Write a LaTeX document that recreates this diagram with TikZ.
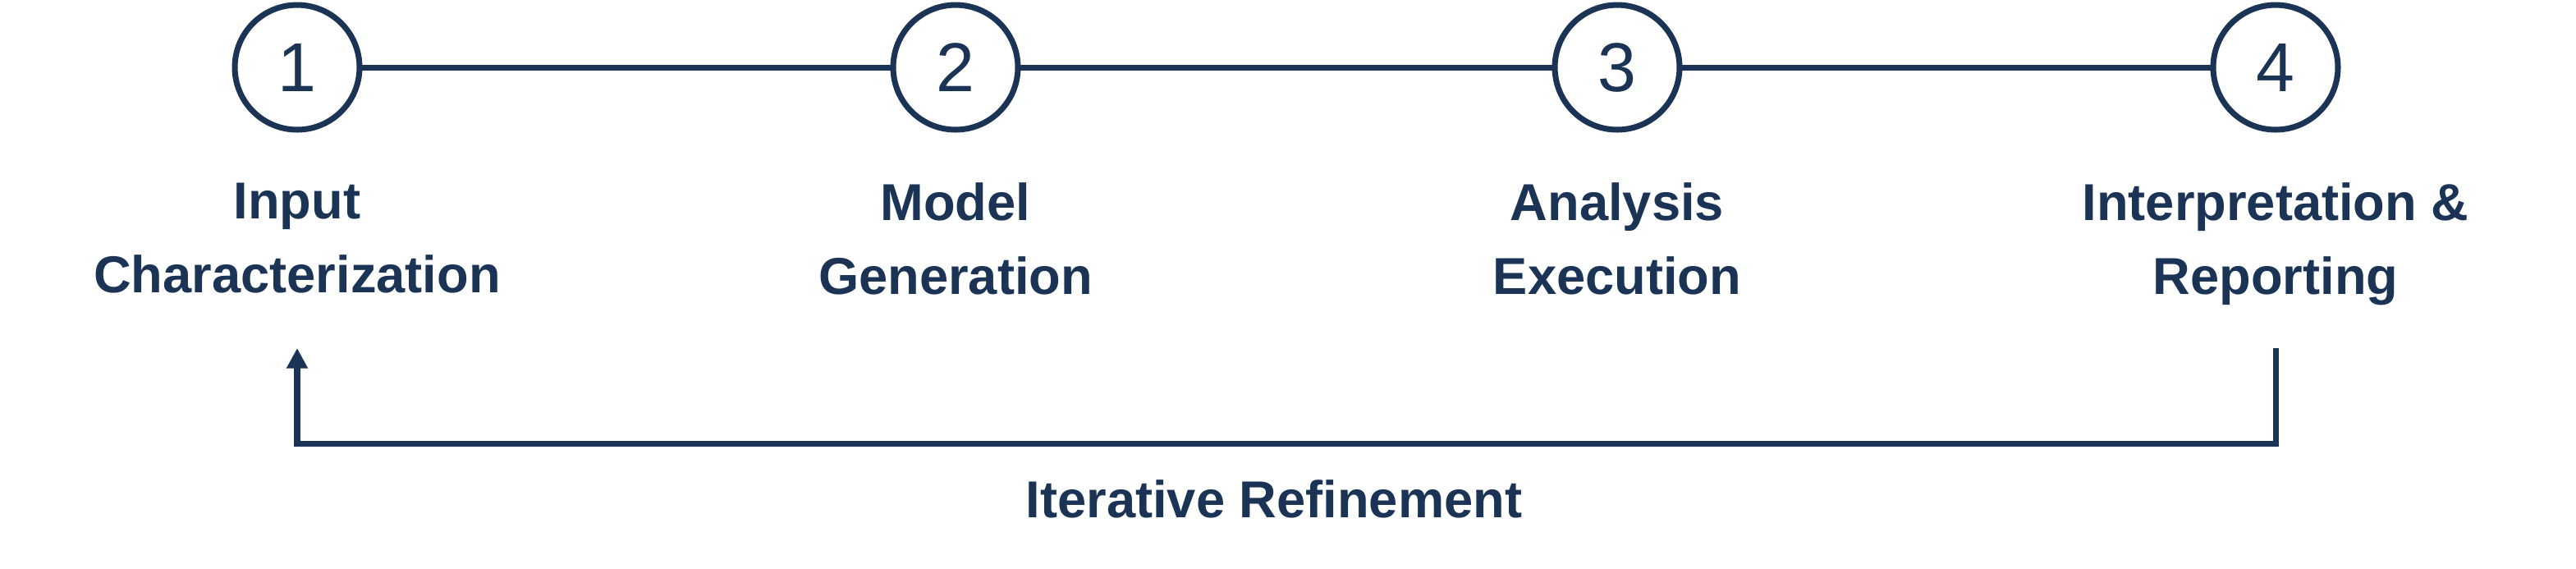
\documentclass[tikz,border=0pt]{standalone}
\usepackage{fontspec}
\setmainfont{Liberation Sans}
\usetikzlibrary{arrows.meta}
\definecolor{navyDark}{RGB}{27, 52, 86}

\begin{document}
\begin{tikzpicture}
    [
		x=0.02cm, y=-0.02cm,
		stage/.style={
			draw=navyDark, circle, line width=2pt, minimum size=1.52cm,
			inner sep=0pt, fill=white, text=navyDark, font=\fontsize{24}{24}\selectfont
		},
		caption/.style={
			align=center, anchor=north, inner sep=0pt, text=navyDark,
			font=\bfseries\fontsize{18}{25.6}\selectfont
		}
	]
\useasboundingbox (0,0) rectangle (1569,346);

% Stages
\draw [navyDark, line width=2pt] (181,41) -- (1386,41);
\node (s1) [stage] at (181,41) {1};
\node (s2) [stage] at (582,41) {2};
\node (s3) [stage] at (985,41) {3};
\node (s4) [stage] at (1386,41) {4};

% Captions
\node (c1) [caption] at (181,111) {Input\\Characterization};
\node (c2) [caption] at (582,111) {Model\\Generation};
\node (c3) [caption] at (985,111) {Analysis\\Execution};
\node (c4) [caption] at (1386,111) {Interpretation \&\\Reporting};

% Feedback
\coordinate (fb4) at (1386,212);
\coordinate (fb1) at (181,212);
\draw [-{Triangle[length=7pt,width=7pt]}, navyDark, line width=2pt]
	(fb4) -- (1386,270) -- (181,270) -- (fb1);
\node (fb) [caption] at (776,292) {Iterative Refinement};

\end{tikzpicture}
\end{document}
